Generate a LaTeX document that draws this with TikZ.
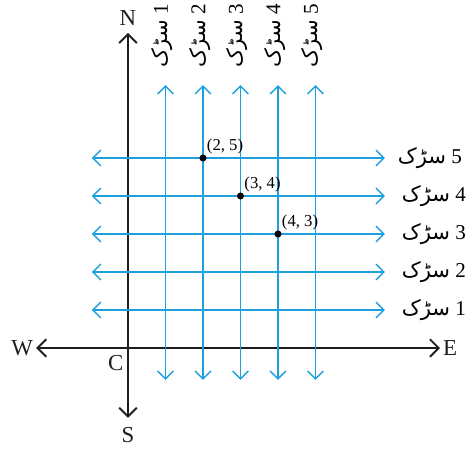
\documentclass[tikz,border=0pt]{standalone}
\usepackage{fontspec}
\setmainfont{Liberation Serif}
\newfontfamily\urdufont[Script=Arabic]{DejaVu Sans}
\TeXXeTstate=1
\usetikzlibrary{arrows.meta, positioning}
\definecolor{roadblue}{RGB}{27, 160, 220}
\definecolor{axisblack}{RGB}{30, 30, 30}
\newcommand{\sarak}{{\urdufont\beginR سڑک\endR}}
\tikzset{
  axisline/.style={
    {Straight Barb[length=5pt, width=10pt, line width=1.1pt]}-{Straight Barb[length=5pt, width=10pt, line width=1.1pt]},
    line width=1.1pt, color=axisblack
  },
  roadline/.style={
    {Straight Barb[length=4.5pt, width=9pt, line width=0.8pt]}-{Straight Barb[length=4.5pt, width=9pt, line width=0.8pt]},
    line width=0.7pt, color=roadblue
  },
  dirlabel/.style={
    font=\fontsize{13}{15}\selectfont, inner sep=1pt, text=axisblack
  },
  roadlabel/.style={
    font=\fontsize{12}{14}\selectfont, inner sep=1pt
  },
  point/.style={
    circle, fill=black, inner sep=0pt, minimum size=4pt
  },
  pointlabel/.style={
    font=\fontsize{9.5}{11}\selectfont, inner sep=0.5pt
  }
}

\begin{document}
\begin{tikzpicture}[x=0.75cm, y=0.76cm]

  % ── Frame ──────────────────────────────────────────────
  \useasboundingbox (-3.413, -2.868) rectangle (9.067, 9.158);

  % ── Compass axes ───────────────────────────────────────
  \coordinate (north) at (0, 8.29);
  \coordinate (south) at (0, -1.84);
  \coordinate (west)  at (-2.45, 0);
  \coordinate (east)  at (8.32, 0);
  \draw[axisline] (south) -- (north);
  \draw[axisline] (west)  -- (east);

  \node[dirlabel, above=0.1cm of north] (nlabel) {N};
  \node[dirlabel, below=0.15cm of south] (slabel) {S};
  \node[dirlabel, left=0.02cm of west]   (wlabel) {W};
  \node[dirlabel, right=0.02cm of east]  (elabel) {E};
  \node[dirlabel, below left=0.1cm and 0.05cm of {(0,0)}] (clabel) {C};

  % ── Roads running north–south ──────────────────────────
  \foreach \k in {1,...,5}{
    \coordinate (vbot\k) at (\k, -0.84);
    \coordinate (vtop\k) at (\k, 6.92);
    \draw[roadline] (vbot\k) -- (vtop\k);
    \node[roadlabel, rotate=90, anchor=west, xshift=0.3cm, yshift=0.06cm]
      (vlab\k) at (vtop\k) {\sarak\ \k};
  }

  % ── Roads running east–west ────────────────────────────
  \foreach \k in {1,...,5}{
    \coordinate (hleft\k)  at (-0.96, \k);
    \coordinate (hright\k) at (6.85, \k);
    \draw[roadline] (hleft\k) -- (hright\k);
  }
  \node[roadlabel, right=0.22cm of hright5] (hlab5) {\sarak\ 5};
  \foreach \k in {1,...,4}{
    \node[roadlabel, right=0.3cm of hright\k] (hlab\k) {\sarak\ \k};
  }

  % ── Crossings ──────────────────────────────────────────
  \node[point] (p25) at (2, 5) {};
  \node[point] (p34) at (3, 4) {};
  \node[point] (p43) at (4, 3) {};
  \node[pointlabel, anchor=south west] at (p25.north east) {(2, 5)};
  \node[pointlabel, anchor=south west] at (p34.north east) {(3, 4)};
  \node[pointlabel, anchor=south west] at (p43.north east) {(4, 3)};

\end{tikzpicture}
\end{document}
